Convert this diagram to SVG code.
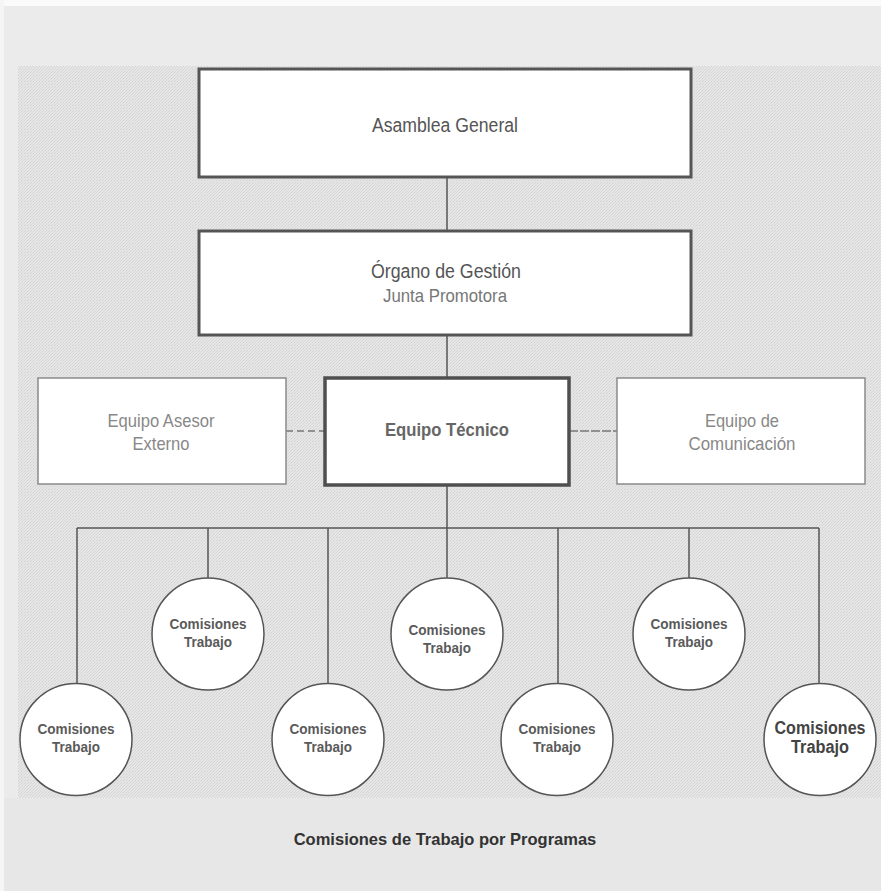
<svg xmlns="http://www.w3.org/2000/svg" width="881" height="891" viewBox="0 0 881 891">
  <defs>
    <pattern id="grain" width="3" height="3" patternUnits="userSpaceOnUse">
      <rect width="3" height="3" fill="#e6e6e6"/>
      <rect x="0" y="0" width="1" height="1" fill="#d2d2d2"/>
      <rect x="2" y="1" width="1" height="1" fill="#dadada"/>
      <rect x="1" y="2" width="1" height="1" fill="#d6d6d6"/>
    </pattern>
    <style>
      .box { fill: #ffffff; stroke: #555555; stroke-width: 3; }
      .sbox { fill: #ffffff; stroke: #8a8a8a; stroke-width: 1.5; }
      .tbox { fill: #ffffff; stroke: #4f4f4f; stroke-width: 3.5; }
      .circ { fill: #ffffff; stroke: #555555; stroke-width: 1.5; }
      .conn line { stroke: #555555; stroke-width: 1.5; }
      .conn .dash1 { stroke: #777777; stroke-dasharray: 7 4; }
      .conn .dash2 { stroke: #777777; stroke-dasharray: 9 2; }
      text { font-family: "Liberation Sans", Arial, sans-serif; text-anchor: middle; }
      .big { font-size: 20px; fill: #555555; }
      .sub { font-size: 19px; fill: #777777; }
      .side { font-size: 18.5px; fill: #888888; }
      .tec { font-size: 18.5px; font-weight: bold; fill: #666666; }
      .com { font-size: 15.5px; font-weight: bold; fill: #5a5a5a; }
      .com2 { font-size: 18px; font-weight: bold; fill: #444444; }
      .title { font-size: 16.5px; font-weight: bold; fill: #333333; }
    </style>
  </defs>

  <!-- background -->
  <rect x="0" y="0" width="881" height="891" fill="#ebebeb"/>
  <rect x="0" y="0" width="881" height="6" fill="#fafafa"/>
  <rect x="0" y="0" width="4" height="891" fill="#f5f5f5"/>
  <rect x="18" y="66" width="863" height="732" fill="url(#grain)"/>
  <rect x="4" y="798" width="877" height="93" fill="#e7e7e7"/>

  <!-- connectors -->
  <g id="connectors" class="conn">
    <line x1="447" y1="177" x2="447" y2="231"/>
    <line x1="447" y1="335" x2="447" y2="378"/>
    <line class="dash1" x1="286" y1="431" x2="324" y2="431"/>
    <line class="dash2" x1="569" y1="431" x2="617" y2="431"/>
    <line x1="447" y1="485" x2="447" y2="578"/>
    <line x1="77" y1="528" x2="819" y2="528"/>
    <line x1="77" y1="528" x2="77" y2="683"/>
    <line x1="208" y1="528" x2="208" y2="578"/>
    <line x1="328" y1="528" x2="328" y2="683"/>
    <line x1="558" y1="528" x2="558" y2="683"/>
    <line x1="689" y1="528" x2="689" y2="578"/>
    <line x1="819" y1="528" x2="819" y2="683"/>
  </g>

  <g id="asamblea">
    <rect class="box" x="199" y="69" width="492" height="108"/>
    <text class="big" x="445" y="132" textLength="146" lengthAdjust="spacingAndGlyphs">Asamblea General</text>
  </g>

  <g id="organo">
    <rect class="box" x="199" y="231" width="492" height="104"/>
    <text class="big" x="446" y="278" textLength="150" lengthAdjust="spacingAndGlyphs">Órgano de Gestión</text>
    <text class="sub" x="445" y="302" textLength="124" lengthAdjust="spacingAndGlyphs">Junta Promotora</text>
  </g>

  <g id="asesor">
    <rect class="sbox" x="38" y="378" width="248" height="106"/>
    <text class="side" x="161" y="427" textLength="107" lengthAdjust="spacingAndGlyphs">Equipo Asesor</text>
    <text class="side" x="161" y="450" textLength="57" lengthAdjust="spacingAndGlyphs">Externo</text>
  </g>

  <g id="tecnico">
    <rect class="tbox" x="325" y="378" width="244" height="107"/>
    <text class="tec" x="447" y="436" textLength="124" lengthAdjust="spacingAndGlyphs">Equipo Técnico</text>
  </g>

  <g id="comunicacion">
    <rect class="sbox" x="617" y="378" width="248" height="106"/>
    <text class="side" x="742" y="427" textLength="74" lengthAdjust="spacingAndGlyphs">Equipo de</text>
    <text class="side" x="742" y="450" textLength="107" lengthAdjust="spacingAndGlyphs">Comunicación</text>
  </g>

  <g id="comision1">
    <circle class="circ" cx="76" cy="739.5" r="56"/>
    <text class="com" x="76" y="734" textLength="77" lengthAdjust="spacingAndGlyphs">Comisiones</text>
    <text class="com" x="76" y="752" textLength="48" lengthAdjust="spacingAndGlyphs">Trabajo</text>
  </g>
  <g id="comision2">
    <circle class="circ" cx="208" cy="634" r="56"/>
    <text class="com" x="208" y="629" textLength="77" lengthAdjust="spacingAndGlyphs">Comisiones</text>
    <text class="com" x="208" y="647" textLength="48" lengthAdjust="spacingAndGlyphs">Trabajo</text>
  </g>
  <g id="comision3">
    <circle class="circ" cx="328" cy="739.5" r="56"/>
    <text class="com" x="328" y="734" textLength="77" lengthAdjust="spacingAndGlyphs">Comisiones</text>
    <text class="com" x="328" y="752" textLength="48" lengthAdjust="spacingAndGlyphs">Trabajo</text>
  </g>
  <g id="comision4">
    <circle class="circ" cx="447" cy="634" r="56"/>
    <text class="com" x="447" y="635" textLength="77" lengthAdjust="spacingAndGlyphs">Comisiones</text>
    <text class="com" x="447" y="653" textLength="48" lengthAdjust="spacingAndGlyphs">Trabajo</text>
  </g>
  <g id="comision5">
    <circle class="circ" cx="557" cy="739.5" r="56"/>
    <text class="com" x="557" y="734" textLength="77" lengthAdjust="spacingAndGlyphs">Comisiones</text>
    <text class="com" x="557" y="752" textLength="48" lengthAdjust="spacingAndGlyphs">Trabajo</text>
  </g>
  <g id="comision6">
    <circle class="circ" cx="689" cy="634" r="56"/>
    <text class="com" x="689" y="629" textLength="77" lengthAdjust="spacingAndGlyphs">Comisiones</text>
    <text class="com" x="689" y="647" textLength="48" lengthAdjust="spacingAndGlyphs">Trabajo</text>
  </g>
  <g id="comision7">
    <circle class="circ" cx="820" cy="739.5" r="56"/>
    <text class="com2" x="820" y="734" textLength="91" lengthAdjust="spacingAndGlyphs">Comisiones</text>
    <text class="com2" x="820" y="753" textLength="58" lengthAdjust="spacingAndGlyphs">Trabajo</text>
  </g>

  <g id="caption">
    <text class="title" x="445" y="845">Comisiones de Trabajo por Programas</text>
  </g>
</svg>
